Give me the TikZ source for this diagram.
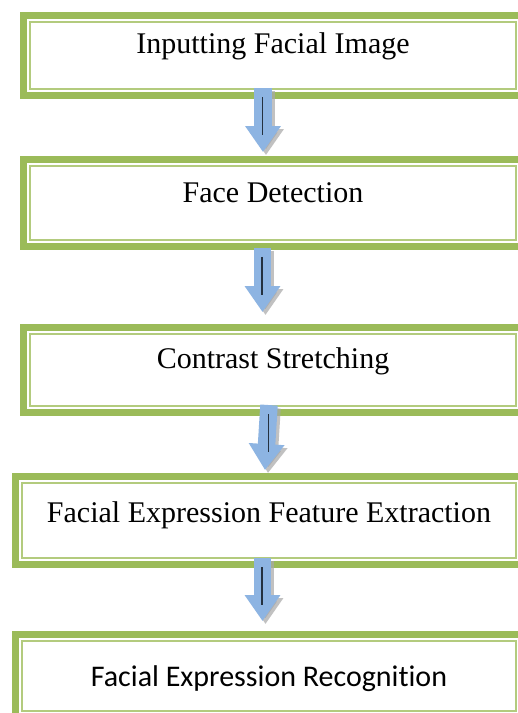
\documentclass[tikz,border=0pt]{standalone}
\usepackage{fontspec}
\setmainfont{Liberation Serif}
\newfontfamily\sansf[Ligatures=NoCommon]{Carlito}
\usetikzlibrary{arrows.meta}
\definecolor{bandgreen}{HTML}{9BBB59}
\definecolor{thingreen}{HTML}{B3CB7E}
\definecolor{arrowblue}{HTML}{8DB4E2}
\definecolor{shaftline}{HTML}{24313F}
\definecolor{shadowgray}{HTML}{A8A8A8}
\tikzset{
  box/.style={draw=bandgreen, line width=7.3pt, fill=white, rectangle,
    inner sep=0pt, outer sep=0pt, anchor=base,
    font=\fontsize{30}{36}\selectfont,
    path picture={\draw[thingreen, line width=2.3pt]
      ([shift={(6.5pt,-6.5pt)}]path picture bounding box.north west) rectangle
      ([shift={(-6.5pt,6.5pt)}]path picture bounding box.south east);}},
  flowshadow/.style={shadowgray, opacity=0.7, line width=17.5pt,
    -{Triangle[width=34pt,length=26pt]}},
  flowarrow/.style={arrowblue, line width=17.5pt,
    -{Triangle[width=34pt,length=26pt]}},
  innerstroke/.style={shaftline, line width=1.5pt}
}
\begin{document}
\begin{tikzpicture}[x=1pt,y=-1pt]
\useasboundingbox (0,0) rectangle (518,713);
\clip (0,0) rectangle (518,713);
\fill[white] (0,0) rectangle (518,713);
% boxes
\node[box, minimum width=498.7pt, text height=37.35pt, text depth=42.65pt] (b1) at (273,53) {Inputting Facial Image};
\node[box, minimum width=498.7pt, text height=42.35pt, text depth=44.35pt] (b2) at (273,202) {Face Detection};
\node[box, minimum width=498.7pt, text height=40.35pt, text depth=44.35pt] (b3) at (273,368) {Contrast Stretching};
\node[box, minimum width=506.7pt, text height=45.35pt, text depth=42.35pt] (b4) at (269,522) {Facial Expression Feature Extraction};
\node[box, minimum width=506.7pt, text height=51.35pt, text depth=31.35pt, font=\sansf\fontsize{30}{36}\selectfont] (b5) at (269,686) {Facial Expression Recognition};
% arrow end points
\coordinate (a1s) at ([shift={(-10pt,7.6pt)}]b1.south);
\coordinate (a1e) at ([shift={(-10pt,7.6pt)}]b2.north);
\coordinate (a2s) at ([shift={(-10.5pt,-1.6pt)}]b2.south);
\coordinate (a2e) at ([shift={(-10.5pt,15.6pt)}]b3.north);
\coordinate (a3s) at ([shift={(-4pt,7.3pt)}]b3.south);
\coordinate (a3e) at ([shift={(-4pt,6.6pt)}]b4.north);
\coordinate (a4s) at ([shift={(-6.5pt,6.3pt)}]b4.south);
\coordinate (a4e) at ([shift={(-6.5pt,13.6pt)}]b5.north);
% arrows
\foreach \s/\e in {a1s/a1e,a2s/a2e,a3s/a3e,a4s/a4e}{
  \draw[flowshadow] ([shift={(3pt,-3pt)}]\s) -- ([shift={(3pt,-3pt)}]\e);
  \draw[flowarrow] (\s) -- (\e);
  \draw[innerstroke] ([shift={(-0.5pt,-9pt)}]\s) -- ([shift={(-0.5pt,-47pt)}]\s);
}
\end{tikzpicture}
\end{document}
